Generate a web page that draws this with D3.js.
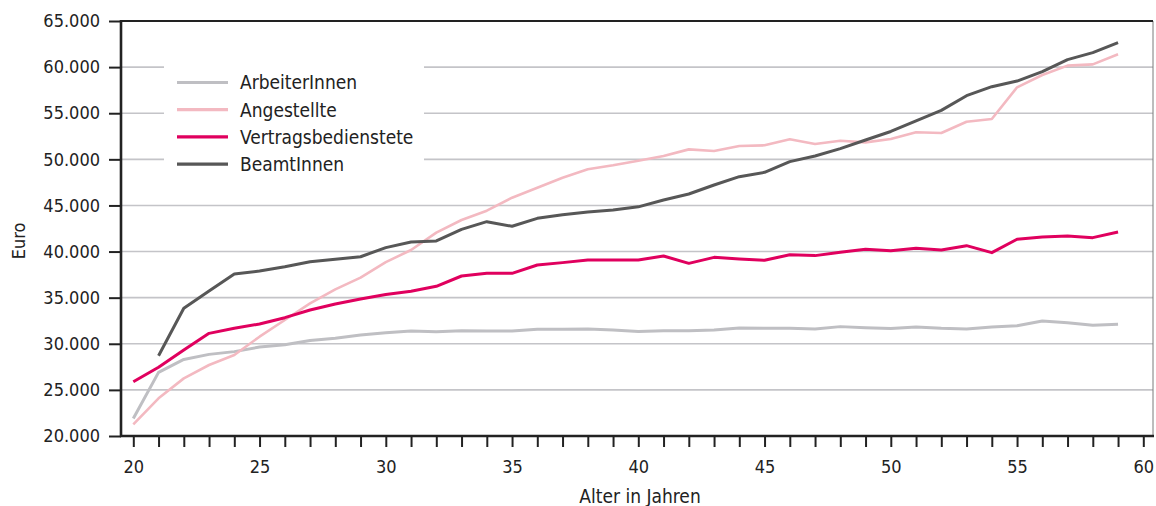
<!DOCTYPE html>
<html>
<head>
<meta charset="utf-8">
<script src="https://cdn.jsdelivr.net/npm/d3@7"></script>
<style>
  html, body { margin: 0; padding: 0; background: #fff; }
  svg { display: block; }
  text { font-family: "DejaVu Sans Condensed", "DejaVu Sans", sans-serif; fill: #222; }
</style>
</head>
<body>
<svg id="chart" width="1156" height="506"></svg>
<script>
const ages = [20,21,22,23,24,25,26,27,28,29,30,31,32,33,34,35,36,37,38,39,40,41,42,43,44,45,46,47,48,49,50,51,52,53,54,55,56,57,58,59];
const arbeiterInnen = [21900,26900,28300,28850,29150,29650,29900,30350,30600,30950,31200,31390,31310,31420,31390,31390,31570,31570,31610,31500,31330,31400,31420,31490,31710,31680,31680,31600,31860,31750,31660,31820,31680,31610,31820,31960,32470,32290,32000,32110];
const angestellte = [21270,24090,26250,27700,28780,30770,32580,34390,35900,37170,38850,40170,42050,43420,44430,45840,46920,48010,48920,49350,49850,50360,51080,50900,51450,51520,52170,51660,52020,51840,52200,52930,52860,54080,54370,57810,59140,60160,60300,61390];
const vertragsbedienstete = [25890,27450,29330,31130,31680,32150,32830,33660,34310,34860,35350,35700,36230,37350,37640,37640,38540,38800,39090,39090,39090,39520,38720,39370,39190,39050,39660,39560,39920,40240,40100,40350,40170,40640,39880,41330,41580,41690,41510,42120];
const beamtInnen = [null,28700,33850,35720,37570,37890,38360,38900,39160,39440,40430,41040,41150,42410,43240,42740,43600,44000,44290,44510,44850,45590,46240,47220,48120,48590,49750,50360,51160,52100,53020,54160,55310,56900,57880,58490,59510,60810,61570,62650];

const seriesNames = ["ArbeiterInnen","Angestellte","Vertragsbedienstete","BeamtInnen"];
const seriesValues = [arbeiterInnen, angestellte, vertragsbedienstete, beamtInnen];
const seriesColors = ["#bfbfc3","#f3b9c1","#e0005e","#575757"];
const seriesWidths = [3, 2.6, 3, 3];

const yTicks = [20000,25000,30000,35000,40000,45000,50000,55000,60000,65000];
const xTicks = [20,21,22,23,24,25,26,27,28,29,30,31,32,33,34,35,36,37,38,39,40,41,42,43,44,45,46,47,48,49,50,51,52,53,54,55,56,57,58,59,60];
const xLabelTicks = [20,25,30,35,40,45,50,55,60];
const xTitle = "Alter in Jahren";
const yTitle = "Euro";

const svg = d3.select("#chart");
const L = 121, R = 1153, T = 21, B = 436;
const x = d3.scaleLinear().domain([20, 60]).range([133.3, 1143.3]);
const y = d3.scaleLinear().domain([20000, 65000]).range([B, T]);
const de = d3.formatLocale({decimal: ",", thousands: ".", grouping: [3], currency: ["", " €"]});
const fmt = de.format(",.0f");

// grid
svg.append("g").selectAll("line").data(yTicks.filter(d => d > 20000 && d < 65000)).join("line")
  .attr("x1", L).attr("x2", R).attr("y1", d => y(d)).attr("y2", d => y(d))
  .attr("stroke", "#c4c4c8").attr("stroke-width", 1.6);

// legend background box (covers grid)
svg.append("rect").attr("x", 164).attr("y", 58).attr("width", 260).attr("height", 122)
  .attr("fill", "#fff");

// frame
svg.append("line").attr("x1", R).attr("x2", R).attr("y1", T).attr("y2", B)
  .attr("stroke", "#7a7a7a").attr("stroke-width", 1);
svg.append("line").attr("x1", L).attr("x2", R).attr("y1", T).attr("y2", T)
  .attr("stroke", "#222").attr("stroke-width", 2.2);

// y axis
const yAxis = svg.append("g").attr("transform", `translate(${L},0)`)
  .call(d3.axisLeft(y).tickValues(yTicks).tickFormat(fmt).tickSize(12).tickPadding(9));
yAxis.select(".domain").remove();
yAxis.selectAll(".tick line").attr("stroke", "#222").attr("stroke-width", 2);
yAxis.selectAll(".tick text").attr("font-size", 18).attr("fill", "#222")
  .style("font-family", '"DejaVu Sans Condensed", "DejaVu Sans", sans-serif');

// x axis
const xAxis = svg.append("g").attr("transform", `translate(0,${B})`)
  .call(d3.axisBottom(x).tickValues(xTicks)
    .tickFormat(d => xLabelTicks.includes(d) ? String(d) : "").tickSize(11).tickPadding(13));
xAxis.select(".domain").remove();
xAxis.selectAll(".tick line").attr("stroke", "#222").attr("stroke-width", 2);
xAxis.selectAll(".tick text").attr("font-size", 18).attr("fill", "#222")
  .style("font-family", '"DejaVu Sans Condensed", "DejaVu Sans", sans-serif');

svg.append("line").attr("x1", L).attr("x2", L).attr("y1", T - 1).attr("y2", B + 1)
  .attr("stroke", "#222").attr("stroke-width", 2.6);
svg.append("line").attr("x1", L - 1).attr("x2", R + 1).attr("y1", B).attr("y2", B)
  .attr("stroke", "#222").attr("stroke-width", 2.6);

// lines
const lineGen = d3.line().defined(d => d[1] != null).x(d => x(d[0])).y(d => y(d[1]));
seriesValues.forEach((vals, i) => {
  svg.append("path").datum(ages.map((a, j) => [a, vals[j]]))
    .attr("d", lineGen).attr("fill", "none")
    .attr("stroke", seriesColors[i]).attr("stroke-width", seriesWidths[i])
    .attr("stroke-linejoin", "round");
});

// legend
const lg = svg.append("g");
seriesNames.forEach((name, i) => {
  const yy = 82.5 + i * 27.2;
  lg.append("line").attr("x1", 177).attr("x2", 228).attr("y1", yy).attr("y2", yy)
    .attr("stroke", seriesColors[i]).attr("stroke-width", 3.2);
  lg.append("text").attr("x", 240).attr("y", yy).attr("dy", "0.36em")
    .attr("font-size", 19).text(name);
});

// axis titles
svg.append("text").attr("x", 640).attr("y", 496).attr("dy", "0.36em")
  .attr("text-anchor", "middle").attr("font-size", 19).text(xTitle);
svg.append("text").attr("transform", "translate(19,241) rotate(-90)")
  .attr("dy", "0.36em").attr("text-anchor", "middle").attr("font-size", 18).text(yTitle);
</script>
</body>
</html>
